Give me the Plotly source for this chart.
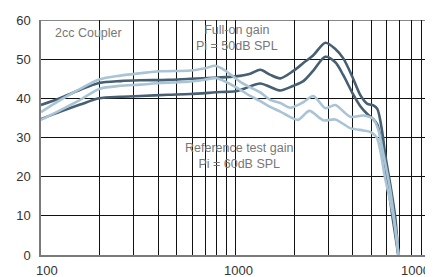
import math
import plotly.graph_objects as go

# ---- data (Hz, dB) ----
dark_upper_f = [100, 126, 159, 199, 256, 324, 451, 586, 806, 1000, 1191, 1341, 1510, 1700, 1983, 2232, 2512, 2896, 3260, 3584, 3987, 4384, 4759, 5111, 5360, 5665, 5890, 6250, 6632, 6870]
dark_upper_db = [38.3, 40.1, 42.2, 43.9, 44.4, 44.6, 44.7, 45.0, 45.3, 45.6, 46.3, 47.3, 46.0, 45.1, 47.0, 49.0, 51.0, 54.2, 52.6, 50.2, 45.5, 40.8, 38.6, 38.2, 37.3, 31.8, 25.5, 18.0, 9.5, 0.0]

dark_lower_f = [100, 126, 159, 199, 256, 324, 451, 586, 835, 1000, 1123, 1341, 1510, 1700, 1983, 2232, 2512, 2896, 3260, 3584, 3987, 4384, 4759, 5111, 5360, 5665, 6000, 6400, 6870]
dark_lower_db = [34.7, 36.6, 38.4, 40.0, 40.4, 40.6, 40.9, 41.1, 41.6, 41.8, 42.6, 43.8, 42.9, 42.0, 43.2, 44.4, 47.1, 50.6, 49.2, 45.9, 41.4, 38.0, 36.0, 34.7, 33.3, 28.0, 20.0, 10.0, 0.0]

light_upper_f = [100, 126, 159, 199, 256, 324, 410, 586, 700, 787, 886, 1058, 1191, 1341, 1510, 1700, 1913, 2232, 2512, 2896, 3260, 3890, 4542, 5111, 5420, 5750, 6250, 6632, 6900]
light_upper_db = [36.5, 39.6, 42.4, 44.8, 45.8, 46.4, 46.9, 47.1, 47.7, 48.3, 47.1, 44.2, 42.8, 41.5, 39.6, 38.8, 37.6, 39.0, 40.6, 37.5, 38.3, 35.3, 35.6, 34.7, 32.0, 26.0, 16.5, 7.0, 0.0]

light_lower_f = [100, 126, 159, 199, 256, 324, 410, 586, 700, 787, 886, 1058, 1191, 1341, 1510, 1700, 1913, 2100, 2400, 2828, 3260, 3890, 4542, 4932, 5323, 5890, 6500, 6880]
light_lower_db = [34.5, 37.0, 39.6, 42.4, 43.2, 43.5, 43.9, 44.3, 44.8, 45.2, 44.3, 42.2, 40.6, 39.3, 37.8, 36.6, 35.2, 34.5, 36.8, 34.4, 34.6, 32.4, 31.8, 31.4, 30.0, 19.4, 9.5, 0.0]

x_tick_vals = [100, 200, 300, 400, 500, 600, 700, 800, 900,
               1000, 2000, 3000, 4000, 5000, 6000, 7000, 8000, 9000, 10000]
x_label_vals = [100, 1000, 10000]
x_label_text = ["100", "1000", "10000"]
x_label_shift = [6, 3, -11]
y_tick_vals = [0, 10, 20, 30, 40, 50, 60]

DARK = "#465f72"
LIGHT = "#a9c4d4"
TICK_FONT = dict(family="Liberation Sans, Arial", size=13, color="#333333")
TXT_FONT = dict(family="Liberation Sans, Arial", size=12.5, color="#777777")

fig = go.Figure()
for f, db, c in [(dark_upper_f, dark_upper_db, DARK),
                 (dark_lower_f, dark_lower_db, DARK),
                 (light_upper_f, light_upper_db, LIGHT),
                 (light_lower_f, light_lower_db, LIGHT)]:
    fig.add_trace(go.Scatter(x=f, y=db, mode="lines",
                             line=dict(color=c, width=2.6, shape="spline", smoothing=0.8),
                             hoverinfo="skip", showlegend=False))

fig.update_xaxes(type="log", range=[2, 4], tickvals=x_tick_vals,
                 ticktext=[""] * len(x_tick_vals),
                 showgrid=True, gridcolor="#111111", gridwidth=1,
                 showline=True, linecolor="#7a7a7a", linewidth=1.5,
                 zeroline=False, ticks="")
fig.update_yaxes(range=[0, 60], tickvals=y_tick_vals,
                 showgrid=True, gridcolor="#111111", gridwidth=1,
                 showline=True, linecolor="#7a7a7a", linewidth=1.5,
                 zeroline=False, ticks="outside", ticklen=6,
                 ticklabeloverflow="allow",
                 tickcolor="rgba(0,0,0,0)", tickfont=TICK_FONT)

# frame lines at the top (60 dB) and right (10 kHz) edges
fig.add_shape(type="line", xref="paper", x0=0, x1=1, yref="y", y0=60, y1=60,
              line=dict(color="#111111", width=1), layer="below")
fig.add_shape(type="line", xref="x", x0=4, x1=4, yref="paper", y0=0, y1=1,
              line=dict(color="#888888", width=1), layer="below")

for v, t, s in zip(x_label_vals, x_label_text, x_label_shift):
    fig.add_annotation(x=math.log10(v), xref="x", y=0, yref="paper",
                       yanchor="top", xanchor="center", xshift=s, yshift=-6,
                       text=t, showarrow=False, font=TICK_FONT)

fig.add_annotation(x=0.03, xref="paper", y=1, yref="paper", yanchor="middle",
                   xanchor="left", yshift=-13, text="2cc Coupler",
                   showarrow=False, font=TXT_FONT)
fig.add_annotation(x=0.505, xref="paper", y=1, yref="paper", yanchor="top",
                   xanchor="center", yshift=-1, align="center",
                   text="Full-on gain<br>Pi = 50dB SPL", showarrow=False, font=TXT_FONT)
fig.add_annotation(x=0.51, xref="paper", y=29.5, yref="y", yanchor="top",
                   xanchor="center", align="center",
                   text="Reference test gain<br>Pi = 60dB SPL", showarrow=False, font=TXT_FONT)

fig.update_layout(width=433, height=277,
                  margin=dict(l=33, r=11, t=5, b=30),
                  paper_bgcolor="white", plot_bgcolor="white")

fig.write_html("out.html")
